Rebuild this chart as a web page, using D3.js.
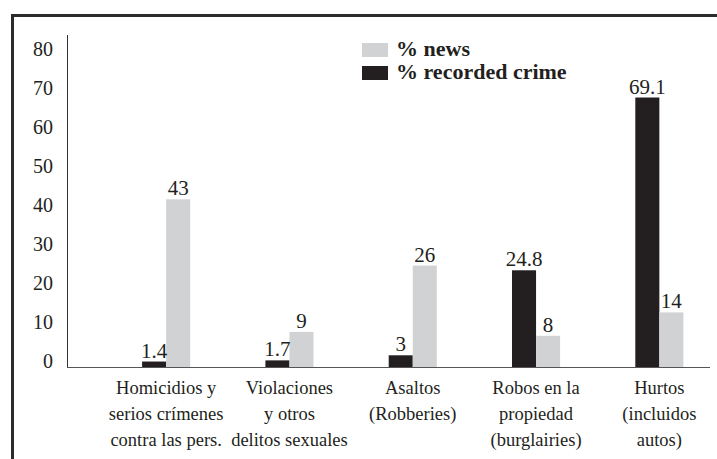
<!DOCTYPE html>
<html>
<head>
<meta charset="utf-8">
<script src="https://cdn.jsdelivr.net/npm/d3@7"></script>
<style>
  html, body { margin: 0; padding: 0; background: #fff; }
  svg { display: block; }
  text { font-family: "Liberation Serif", "Times New Roman", serif; fill: #231f20; }
</style>
</head>
<body>
<svg id="chart" width="717" height="459"></svg>
<script>
// Crime categories (label lines), share of news coverage and of recorded crime
const categories = [
  ["Homicidios y", "serios crímenes", "contra las pers."],
  ["Violaciones", "y otros", "delitos sexuales"],
  ["Asaltos", "(Robberies)"],
  ["Robos en la", "propiedad", "(burglairies)"],
  ["Hurtos", "(incluidos", "autos)"]
];
const newsPct = [43, 9, 26, 8, 14];
const crimePct = [1.4, 1.7, 3, 24.8, 69.1];
const yTicks = [0, 10, 20, 30, 40, 50, 60, 70, 80];
const seriesKeys = ["crime", "news"];
const seriesNames = ["% news", "% recorded crime"];

const colors = { crime: "#231f20", news: "#d1d2d4" };
const serif = "Liberation Serif, Times New Roman, serif";

const svg = d3.select("#chart");

// Frame: top rule and left rule
svg.append("line").attr("x1", 11).attr("x2", 717).attr("y1", 15.5).attr("y2", 15.5)
  .attr("stroke", "#2b2b2b").attr("stroke-width", 3);
svg.append("line").attr("x1", 12.5).attr("x2", 12.5).attr("y1", 14).attr("y2", 459)
  .attr("stroke", "#2b2b2b").attr("stroke-width", 3);

const ids = categories.map((c, i) => "c" + i);
const rows = ids.map((id, i) => ({ id, lines: categories[i], crime: crimePct[i], news: newsPct[i] }));

const y = d3.scaleLinear().domain([0, 80]).range([367, 55]);
const x = d3.scaleBand().domain(ids).range([104.5, 721]).paddingInner(0.61).paddingOuter(0.305);
const xs = d3.scaleBand().domain(seriesKeys).range([0, x.bandwidth()]);

// Y axis: vertical rule with right-aligned numbers sitting on their gridline level, no tick marks
const yAxis = d3.axisLeft(y).tickValues(yTicks).tickSize(0).tickPadding(14);
const gy = svg.append("g").attr("transform", "translate(67,0)").call(yAxis)
  .attr("font-family", serif);
gy.select(".domain").attr("d", "M0.5,35V367").attr("stroke", "#333").attr("stroke-width", 1);
gy.selectAll(".tick text")
  .attr("font-family", serif)
  .attr("font-size", 20)
  .attr("fill", "#231f20")
  .attr("dy", "0.02em");

// Baseline
svg.append("line").attr("x1", 67).attr("x2", 710).attr("y1", y(0) + 0.5).attr("y2", y(0) + 0.5)
  .attr("stroke", "#555").attr("stroke-width", 1);

// Bars
const groups = svg.append("g").selectAll("g").data(rows).join("g")
  .attr("transform", d => `translate(${x(d.id)},0)`);

groups.selectAll("rect").data(d => seriesKeys.map(k => ({ key: k, value: d[k] }))).join("rect")
  .attr("x", d => xs(d.key))
  .attr("width", xs.bandwidth())
  .attr("y", d => y(d.value))
  .attr("height", d => y(0) - y(d.value))
  .attr("fill", d => colors[d.key]);

// Value labels
groups.selectAll("text.val").data(d => seriesKeys.map(k => ({ key: k, value: d[k] }))).join("text")
  .attr("class", "val")
  .attr("x", d => xs(d.key) + xs.bandwidth() / 2)
  .attr("y", d => y(d.value) - 4)
  .attr("text-anchor", "middle")
  .attr("font-family", serif)
  .attr("font-size", 21)
  .text(d => d.value);

// Category labels
const cat = svg.append("g").selectAll("text").data(rows).join("text")
  .attr("text-anchor", "middle")
  .attr("font-family", serif)
  .attr("font-size", 18.5);
cat.each(function (d) {
  const t = d3.select(this);
  d.lines.forEach((ln, i) => {
    t.append("tspan")
      .attr("x", x(d.id) + x.bandwidth() / 2)
      .attr("y", 394 + i * 26)
      .text(ln);
  });
});

// Legend
const legend = svg.append("g").attr("transform", "translate(362,43)");
const legendKeys = ["news", "crime"];
legendKeys.forEach((k, i) => {
  legend.append("rect").attr("x", 0).attr("y", i * 23).attr("width", 26).attr("height", 14)
    .attr("fill", colors[k]);
  legend.append("text").attr("x", 34).attr("y", i * 23 + 13)
    .attr("font-family", serif)
    .attr("font-size", 22).attr("font-weight", "bold")
    .text(seriesNames[i]);
});
</script>
</body>
</html>
